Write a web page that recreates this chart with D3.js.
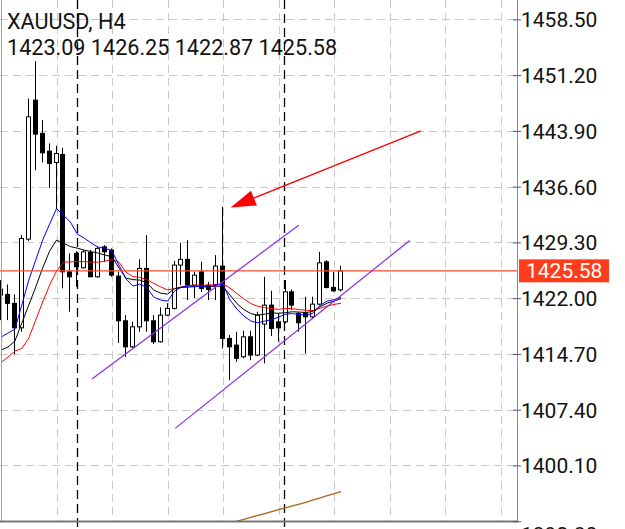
<!DOCTYPE html>
<meta charset="utf-8">
<style>
body { margin: 0; background: #fff; }
svg text { font-family: Roboto, sans-serif; font-size: 21px; fill: #111; }
svg text.header { font-size: 21.6px; }
</style>
<body>
<svg width="625" height="529"></svg>
<script src="https://cdn.jsdelivr.net/npm/d3@7/dist/d3.min.js"></script>
<script>

var symbol = "XAUUSD, H4";
var lastBar = [1423.09, 1426.25, 1422.87, 1425.58];
var lastPrice = 1425.58;
var yTicks = [1458.50, 1451.20, 1443.90, 1436.60, 1429.30, 1422.00, 1414.70, 1407.40, 1400.10, 1392.80];

// H4 bars, oldest first
var opens  = [1423.19,1422.49,1421.32,1418.12,1429.73,1447.93,1443.57,1441.25,1439.77,1440.82,
              1425.45,1427.86,1425.98,1427.99,1424.80,1428.72,1428.29,1424.89,1419.04,1415.63,
              1418.25,1425.90,1419.04,1416.29,1419.78,1420.66,1426.33,1427.08,1423.71,1425.45,
              1423.71,1423.71,1426.20,1416.73,1415.86,1414.33,1416.94,1414.55,1418.61,1421.09,
              1418.91,1418.91,1422.83,1420.01,1420.01,1419.56,1421.22,1426.76,1423.41,1423.09];
var highs  = [1424.37,1423.80,1422.49,1430.26,1448.15,1453.03,1445.31,1442.26,1441.95,1441.68,
              1427.86,1428.16,1428.29,1428.29,1428.72,1428.95,1428.52,1425.45,1419.78,1418.91,
              1427.08,1430.26,1419.78,1420.79,1421.35,1426.89,1429.25,1429.60,1425.45,1426.76,
              1424.14,1427.64,1433.96,1417.17,1417.60,1417.73,1417.73,1420.22,1424.80,1422.96,
              1420.01,1424.37,1423.15,1420.22,1422.18,1422.18,1428.07,1426.98,1425.45,1426.25];
var lows   = [1419.13,1419.13,1414.64,1417.60,1429.50,1438.76,1439.77,1436.45,1433.66,1423.28,
              1420.22,1423.49,1425.90,1424.76,1424.67,1426.72,1424.80,1416.12,1414.33,1415.42,
              1417.60,1417.60,1415.99,1416.20,1419.65,1420.53,1423.71,1421.75,1422.01,1422.83,
              1421.75,1421.75,1415.42,1411.28,1413.67,1414.12,1413.89,1414.40,1413.46,1417.04,
              1416.29,1418.70,1420.44,1417.60,1414.77,1419.40,1421.09,1423.28,1422.83,1422.87];
var closes = [1422.40,1421.32,1418.12,1429.82,1445.74,1443.48,1441.03,1439.64,1440.95,1425.45,
              1424.80,1426.11,1428.07,1424.80,1428.52,1428.07,1425.02,1419.04,1415.63,1418.25,
              1425.90,1419.04,1416.29,1419.78,1420.66,1426.33,1427.08,1423.71,1425.02,1423.28,
              1423.15,1426.20,1416.73,1415.63,1414.12,1416.94,1414.55,1419.78,1421.09,1418.04,
              1418.12,1422.83,1421.09,1418.78,1419.56,1421.22,1426.63,1423.41,1422.96,1425.58];

// moving averages, one value per bar
var maBlue  = [1416.90,1417.43,1417.95,1421.09,1424.37,1426.98,1429.60,1431.70,1433.72,1432.87,
               1431.96,1430.39,1429.86,1429.21,1428.69,1428.55,1428.16,1426.33,1424.54,1423.58,
               1423.84,1423.41,1422.14,1421.75,1421.62,1422.93,1423.45,1423.58,1423.58,1423.51,
               1423.41,1423.78,1423.78,1421.75,1420.57,1419.65,1419.00,1418.78,1419.00,1419.19,
               1419.52,1419.91,1419.98,1419.85,1419.78,1420.05,1421.09,1421.62,1421.81,1422.14];
var maBlack = [1415.20,1415.60,1416.38,1418.74,1421.09,1423.45,1425.94,1428.16,1429.60,1429.21,
               1428.75,1428.55,1428.29,1428.10,1427.90,1427.64,1427.44,1425.94,1424.63,1424.43,
               1424.37,1424.04,1423.06,1422.66,1422.53,1423.25,1423.41,1423.45,1423.51,1423.58,
               1423.51,1423.58,1423.51,1422.40,1421.29,1420.50,1419.98,1419.78,1419.91,1420.07,
               1420.02,1420.11,1420.22,1420.18,1420.11,1420.31,1420.90,1421.35,1421.62,1421.94];
var maRed   = [1413.57,1414.29,1415.07,1415.40,1416.77,1419.13,1421.49,1423.71,1425.54,1426.72,
               1426.76,1426.79,1426.79,1426.72,1426.72,1426.85,1427.05,1426.72,1425.41,1424.82,
               1424.72,1424.43,1423.93,1423.48,1423.08,1423.25,1423.49,1423.65,1423.71,1423.71,
               1423.71,1423.78,1423.87,1423.32,1422.60,1421.90,1421.29,1420.94,1420.77,1420.63,
               1420.54,1420.66,1420.63,1420.50,1420.41,1420.37,1420.70,1420.96,1421.18,1421.35];
// slow MA, only its tail enters the window (bars 33..49)
var brownStart = 33;
var maBrown = [1392.50,1392.80,1393.05,1393.30,1393.55,1393.80,1394.05,1394.30,1394.55,
               1394.80,1395.05,1395.30,1395.60,1395.85,1396.15,1396.40,1396.68];

// objects drawn on the chart: [bar, price]
var channelUpper = [[13.1, 1411.41], [42.9, 1431.56]];
var channelLower = [[25.1, 1404.95], [58.9, 1429.56]];
var arrowFrom = [60.5, 1443.91];
var arrowTo   = [33.1, 1433.88];
var separators = [10.95, 40.8];
var gridBars = [0, 8, 16, 24, 32, 40, 48, 56, 64, 72];

var W = 625, H = 529, plotR = 517, plotB = 521;

var x = d3.scaleLinear().domain([0, 72]).range([1, 500.7]);
var y = d3.scaleLinear().domain([1392.8, 1458.5]).range([521.2, 19.4]);

var svg = d3.select("svg");
svg.append("defs").append("clipPath").attr("id", "plot")
  .append("rect").attr("x", 0).attr("y", 0).attr("width", plotR).attr("height", plotB);

var grid = svg.append("g").attr("stroke", "#c9c9c9").attr("stroke-dasharray", "8,5");
grid.selectAll(".h").data(yTicks).enter().append("line")
  .attr("x1", 0).attr("x2", plotR)
  .attr("y1", function(d){ return Math.round(y(d)) + 0.5; })
  .attr("y2", function(d){ return Math.round(y(d)) + 0.5; });
grid.selectAll(".v").data(gridBars).enter().append("line")
  .attr("y1", 0).attr("y2", plotB)
  .attr("x1", function(d){ return Math.round(x(d)) + 0.5; })
  .attr("x2", function(d){ return Math.round(x(d)) + 0.5; });

svg.append("g").attr("stroke", "#000").attr("stroke-width", 1.3).attr("stroke-dasharray", "9,5")
  .selectAll("line").data(separators).enter().append("line")
  .attr("y1", 0).attr("y2", H)
  .attr("x1", function(d){ return Math.round(x(d)) + 0.5; })
  .attr("x2", function(d){ return Math.round(x(d)) + 0.5; });

var plot = svg.append("g").attr("clip-path", "url(#plot)");

var bars = d3.range(opens.length).map(function(i){
  return { i: i, o: opens[i], h: highs[i], l: lows[i], c: closes[i] };
});

var candle = plot.selectAll(".candle").data(bars).enter().append("g")
  .attr("transform", function(d){ return "translate(" + (Math.round(x(d.i)) - 0.5) + ",0)"; });
candle.append("line")
  .attr("y1", function(d){ return y(d.h); }).attr("y2", function(d){ return y(d.l); })
  .attr("stroke", "#000");
candle.append("rect")
  .attr("x", -2).attr("width", 4)
  .attr("y", function(d){ return y(Math.max(d.o, d.c)); })
  .attr("height", function(d){ return Math.max(1, Math.abs(y(d.o) - y(d.c))); })
  .attr("fill", function(d){ return d.c >= d.o ? "#fff" : "#000"; })
  .attr("stroke", "#000");

function maLine(values, start) {
  return d3.line()
    .x(function(d, i){ return x(i + start); })
    .y(function(d){ return y(d); })(values);
}
[[maRed, "#ff0000"], [maBlack, "#000000"], [maBlue, "#0000ff"]].forEach(function(m){
  plot.append("path").attr("d", maLine(m[0], 0))
    .attr("fill", "none").attr("stroke", m[1]).attr("stroke-width", 1);
});
plot.append("path").attr("d", maLine(maBrown, brownStart))
  .attr("fill", "none").attr("stroke", "#b0641c").attr("stroke-width", 1.3);

// current price line
plot.append("line")
  .attr("x1", 0).attr("x2", plotR)
  .attr("y1", y(lastPrice)).attr("y2", y(lastPrice))
  .attr("stroke", "#ff4a2e").attr("stroke-width", 1.3);

[channelUpper, channelLower].forEach(function(t){
  plot.append("line")
    .attr("x1", x(t[0][0])).attr("y1", y(t[0][1]))
    .attr("x2", x(t[1][0])).attr("y2", y(t[1][1]))
    .attr("stroke", "#8a2be2").attr("stroke-width", 1.2);
});

// arrow
var ax0 = x(arrowFrom[0]), ay0 = y(arrowFrom[1]);
var ax1 = x(arrowTo[0]), ay1 = y(arrowTo[1]);
var len = Math.hypot(ax1 - ax0, ay1 - ay0);
var ux = (ax1 - ax0) / len, uy = (ay1 - ay0) / len;
var headL = 25, headW = 8;
var bx = ax1 - ux * headL, by = ay1 - uy * headL;
plot.append("line").attr("x1", ax0).attr("y1", ay0).attr("x2", bx + ux * 3).attr("y2", by + uy * 3)
  .attr("stroke", "#ff0000").attr("stroke-width", 1.3);
plot.append("polygon")
  .attr("points", [[ax1, ay1], [bx - uy * headW, by + ux * headW], [bx + uy * headW, by - ux * headW]].join(" "))
  .attr("fill", "#ff0000");

// frame
svg.append("line").attr("x1", 1.5).attr("x2", 1.5).attr("y1", 0).attr("y2", plotB).attr("stroke", "#a0a0a0");
svg.append("line").attr("x1", plotR + 0.5).attr("x2", plotR + 0.5).attr("y1", 0).attr("y2", plotB + 1).attr("stroke", "#8a8a8a").attr("stroke-width", 1);
svg.append("line").attr("x1", 0).attr("x2", plotR + 1).attr("y1", plotB + 0.5).attr("y2", plotB + 0.5).attr("stroke", "#777").attr("stroke-width", 2);

// price axis
var axis = svg.append("g").attr("transform", "translate(" + plotR + ",0)")
  .call(d3.axisRight(y).tickValues(yTicks).tickSize(4).tickPadding(0).tickFormat(d3.format(".2f")));
axis.select(".domain").remove();
axis.selectAll(".tick line").attr("x1", -4).attr("stroke", "#555");
axis.selectAll(".tick text").attr("font-size", null).attr("font-family", null).attr("fill", null)
  .attr("dy", function(d){ return d === yTicks[yTicks.length - 1] ? "0.95em" : "0.35em"; });

// last price tag
svg.append("rect").attr("x", 519).attr("y", y(lastPrice) - 11.5).attr("width", 90).attr("height", 23)
  .attr("fill", "#ff3d1c");
svg.append("text").attr("x", 526).attr("y", y(lastPrice)).attr("dy", "0.35em")
  .style("fill", "#fff").text(d3.format(".2f")(lastPrice));

// header
svg.append("text").attr("class", "header").attr("x", 7).attr("y", 28.5).text(symbol);
svg.append("text").attr("class", "header").attr("x", 7).attr("y", 55)
  .text(lastBar.map(d3.format(".2f")).join(" "));

</script>
</body>
